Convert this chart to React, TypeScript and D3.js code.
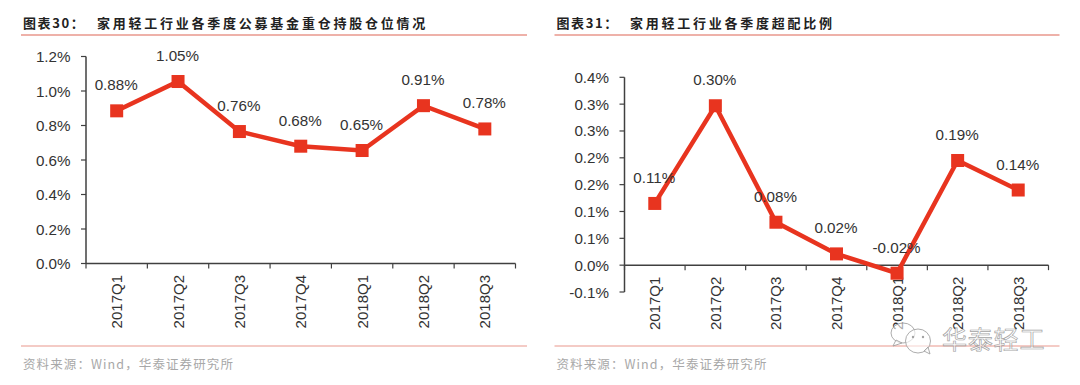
import React from "react";
import * as d3 from "d3";

const categories = ["2017Q1", "2017Q2", "2017Q3", "2017Q4", "2018Q1", "2018Q2", "2018Q3"];
const holdingValues = [0.885, 1.055, 0.765, 0.68, 0.655, 0.915, 0.78];
const holdingLabels = ["0.88%", "1.05%", "0.76%", "0.68%", "0.65%", "0.91%", "0.78%"];
const holdingTicks = [0, 0.2, 0.4, 0.6, 0.8, 1.0, 1.2];
const holdingTickLabels = ["0.0%", "0.2%", "0.4%", "0.6%", "0.8%", "1.0%", "1.2%"];
const overValues = [0.115, 0.297, 0.08, 0.021, -0.015, 0.195, 0.14];
const overLabels = ["0.11%", "0.30%", "0.08%", "0.02%", "-0.02%", "0.19%", "0.14%"];
const overTicks = [-0.05, 0, 0.05, 0.1, 0.15, 0.2, 0.25, 0.3, 0.35];
const overTickLabels = ["-0.1%", "0.0%", "0.1%", "0.1%", "0.2%", "0.2%", "0.3%", "0.3%", "0.4%"];

const SANS = "'Liberation Sans', Arial, sans-serif";
const CJK = "'Noto Sans CJK SC', sans-serif";
const RED = "#e8341f";
const AXIS = "#404040";
const TEXT = "#333333";
const RULE = "#e9978c";

interface PanelProps {
  ruleX: [number, number];
  titleX: number;
  prefix: string;
  caption: string;
  x0: number;
  x1: number;
  yDomain: [number, number];
  yRange: [number, number];
  values: number[];
  labels: string[];
  ticks: number[];
  tickLabels: string[];
}

function Panel(p: PanelProps) {
  const x = d3.scaleBand<string>().domain(categories).range([p.x0, p.x1]);
  const y = d3.scaleLinear().domain(p.yDomain).range(p.yRange);
  const cx = (c: string) => (x(c) as number) + x.bandwidth() / 2;
  const zero = y(0);
  const line = d3
    .line<number>()
    .x((_, i) => cx(categories[i]))
    .y((v) => y(v));
  const edges = categories.map((c) => x(c) as number).concat(p.x1);
  const M = 13;
  return (
    <g>
      <text x={p.ruleX[0] + 2} y={28} fontFamily={CJK} fontWeight={700} fontSize={13} fill="#222" letterSpacing={1.6}>
        {p.prefix}
      </text>
      <text x={p.titleX} y={28} fontFamily={CJK} fontWeight={700} fontSize={13} fill="#222" letterSpacing={2.76}>
        {p.caption}
      </text>
      <line x1={p.ruleX[0]} x2={p.ruleX[1]} y1={35} y2={35} stroke={RULE} strokeWidth={1.3} />
      <line x1={p.ruleX[0]} x2={p.ruleX[1]} y1={346} y2={346} stroke={RULE} strokeWidth={1} />
      <text x={p.ruleX[0] + 2} y={369} fontFamily={CJK} fontSize={12.5} fill="#a8a8a8" letterSpacing={1.1}>
        资料来源：Wind，华泰证券研究所
      </text>

      <line x1={p.x0} x2={p.x0} y1={p.yRange[1]} y2={p.yRange[0]} stroke={AXIS} strokeWidth={1.5} />
      <line x1={p.x0} x2={p.x1} y1={zero} y2={zero} stroke={AXIS} strokeWidth={1.5} />
      {p.ticks.map((t, i) => (
        <g key={t}>
          <line x1={p.x0 - 5} x2={p.x0} y1={y(t)} y2={y(t)} stroke={AXIS} strokeWidth={1.2} />
          <text x={p.x0 - 15.5} y={y(t) + 5.5} textAnchor="end" fontFamily={SANS} fontSize={15.2} fill={TEXT}>
            {p.tickLabels[i]}
          </text>
        </g>
      ))}
      {edges.map((e) => (
        <line key={e} x1={e} x2={e} y1={zero} y2={zero + 5} stroke={AXIS} strokeWidth={1.2} />
      ))}
      {categories.map((c) => (
        <text
          key={c}
          transform={`translate(${cx(c) + 5.5},${zero + 11.5}) rotate(-90)`}
          textAnchor="end"
          fontFamily={SANS}
          fontSize={15}
          fill={TEXT}
        >
          {c}
        </text>
      ))}

      <path d={line(p.values) as string} fill="none" stroke={RED} strokeWidth={4.5} strokeLinejoin="miter" />
      {p.values.map((v, i) => (
        <rect key={i} x={cx(categories[i]) - M / 2} y={y(v) - M / 2} width={M} height={M} fill={RED} />
      ))}
      {p.values.map((v, i) => (
        <text
          key={i}
          x={cx(categories[i]) - 0.5}
          y={y(v) - 20.5}
          textAnchor="middle"
          fontFamily={SANS}
          fontSize={15.2}
          fill={TEXT}
        >
          {p.labels[i]}
        </text>
      ))}
    </g>
  );
}

function Watermark() {
  const c = "#9a9a9a";
  return (
    <g opacity={0.9}>
      <g fill="#ffffff" fillOpacity={0.65} stroke={c} strokeWidth={0.9}>
        <ellipse cx={903} cy={333} rx={12} ry={10} />
        <path d="M 896 340 L 893 346 L 902 343 Z" />
        <ellipse cx={918} cy={341} rx={12.5} ry={12} />
        <path d="M 924 351 L 930 354 L 928 347 Z" />
      </g>
      <circle cx={913} cy={337} r={1.2} fill={c} />
      <circle cx={923} cy={337} r={1.2} fill={c} />
      <text
        x={942}
        y={349}
        fontFamily={CJK}
        fontSize={25}
        fill="#ffffff"
        fillOpacity={0.55}
        stroke={c}
        strokeWidth={0.7}
        letterSpacing={0.8}
      >
        华泰轻工
      </text>
    </g>
  );
}

export default function App() {
  return (
    <svg
      width={1080}
      height={385}
      viewBox="0 0 1080 385"
      style={{ position: "absolute", left: 0, top: 0, background: "#fff", display: "block" }}
    >
      <Panel
        ruleX={[21, 527]}
        titleX={97}
        prefix="图表30："
        caption="家用轻工行业各季度公募基金重仓持股仓位情况"
        x0={86}
        x1={515.5}
        yDomain={[0, 1.2]}
        yRange={[263.5, 56.5]}
        values={holdingValues}
        labels={holdingLabels}
        ticks={holdingTicks}
        tickLabels={holdingTickLabels}
      />
      <Panel
        ruleX={[554.5, 1059.5]}
        titleX={630}
        prefix="图表31："
        caption="家用轻工行业各季度超配比例"
        x0={624.5}
        x1={1048.5}
        yDomain={[-0.05, 0.35]}
        yRange={[292, 77.3]}
        values={overValues}
        labels={overLabels}
        ticks={overTicks}
        tickLabels={overTickLabels}
      />
      <Watermark />
    </svg>
  );
}
